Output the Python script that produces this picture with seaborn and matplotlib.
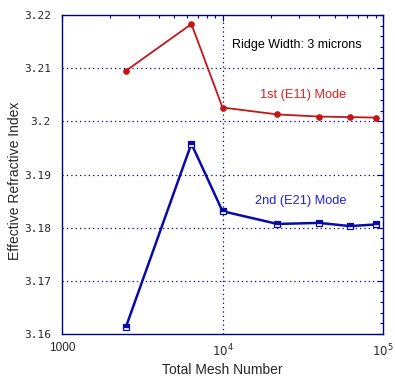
import matplotlib
matplotlib.use("Agg")
import matplotlib.pyplot as plt
import matplotlib.ticker as mticker
import seaborn as sns
import pandas as pd

# mesh sizes and effective indices
meshNumbers = [2500, 6400, 10000, 22000, 40000, 62000, 90000]
firstMode = [3.2095, 3.2183, 3.2026, 3.2013, 3.2009, 3.2008, 3.2007]
secondMode = [3.1613, 3.1958, 3.1831, 3.1807, 3.1809, 3.1803, 3.1806]
yTicks = [3.16, 3.17, 3.18, 3.19, 3.2, 3.21, 3.22]
yTickLabels = ["3.16", "3.17", "3.18", "3.19", "3.2", "3.21", "3.22"]
xTicks = [1000, 10000, 100000]
xTickLabels = ["1000", r"$10^4$", r"$10^5$"]

NAVY = "#000080"
RED = "#c41616"
BLUE = "#0a0aa8"

sns.set_style("white")
plt.rcParams["font.family"] = ["Liberation Sans", "DejaVu Sans"]

df1 = pd.DataFrame({"mesh": meshNumbers, "neff": firstMode})
df2 = pd.DataFrame({"mesh": meshNumbers, "neff": secondMode})

fig = plt.figure(figsize=(3.95, 3.79), dpi=100)
ax = fig.add_axes([0.157, 0.1187, 0.8126, 0.8417])

sns.lineplot(data=df1, x="mesh", y="neff", ax=ax, color=RED, lw=1.3,
             marker="o", markersize=4, markeredgecolor=RED, markerfacecolor=RED)
sns.lineplot(data=df2, x="mesh", y="neff", ax=ax, color=BLUE, lw=1.8,
             marker="s", markersize=5, markeredgecolor=BLUE, markerfacecolor=BLUE,
             fillstyle="top", markerfacecoloralt="white", markeredgewidth=0.9)

ax.set_xscale("log")
ax.set_xlim(1000, 100000)
ax.set_ylim(3.16, 3.22)

ax.set_xticks(xTicks)
ax.set_xticklabels(xTickLabels)
ax.xaxis.set_minor_locator(mticker.LogLocator(base=10, subs=range(2, 10)))
ax.xaxis.set_minor_formatter(mticker.NullFormatter())
ax.set_yticks(yTicks)
ax.set_yticklabels(yTickLabels, family="DejaVu Sans Mono", fontsize=8)
ax.yaxis.set_minor_locator(mticker.MultipleLocator(0.002))

ax.tick_params(which="both", direction="in", top=True, right=True, color=NAVY)
ax.tick_params(which="major", length=4, width=0.8)
ax.tick_params(which="minor", length=2.5, width=0.8)
ax.tick_params(axis="x", labelsize=8.5, pad=6)
ax.tick_params(axis="y", pad=8)

for s in ax.spines.values():
    s.set_color(NAVY)
    s.set_linewidth(1.0)

for y in yTicks[1:-1]:
    ax.axhline(y, color=NAVY, ls=(0, (1, 2.5)), lw=0.9, zorder=0)
ax.axvline(10000, color=NAVY, ls=(0, (1, 2.5)), lw=0.9, zorder=0)

ax.text(0.73, 0.905, "Ridge Width: 3 microns", transform=ax.transAxes,
        ha="center", va="center", fontsize=9, color="black")
ax.text(0.75, 0.75, "1st (E11) Mode", transform=ax.transAxes,
        ha="center", va="center", fontsize=9.2, color="#dd2020")
ax.text(0.745, 0.417, "2nd (E21) Mode", transform=ax.transAxes,
        ha="center", va="center", fontsize=9.2, color="#2020dd")

ax.set_xlabel("Total Mesh Number", fontsize=10, labelpad=3)
ax.set_ylabel("Effective Refractive Index", fontsize=10, va="center")
ax.yaxis.set_label_coords(-0.146, 0.48)

fig.savefig("out.png", dpi=100)
